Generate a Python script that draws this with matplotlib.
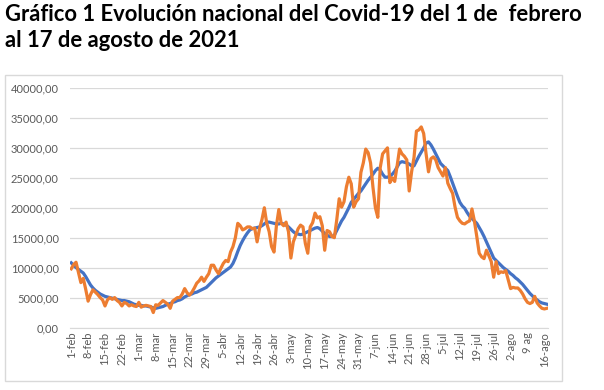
import matplotlib
matplotlib.use('Agg')
import matplotlib.pyplot as plt
from matplotlib.patches import Rectangle

plt.rcParams['font.family'] = ['Lato', 'DejaVu Sans']

# casos diarios (naranja) y media movil (azul), 1-feb a 17-ago 2021
casos = [
    9800, 10500, 10900, 9200, 7500, 8200, 6400,
    4400, 5500, 6300, 5900, 5500, 5000, 4600,
    3600, 4600, 5000, 4700, 5000, 4500, 4200,
    3600, 4200, 4000, 3600, 3800, 3600, 3500,
    4200, 3400, 3600, 3700, 3600, 3500, 2500,
    3800, 3700, 4100, 4500, 4200, 3900, 3200,
    4400, 4700, 5000, 5000, 5600, 6500, 5800,
    5400, 5900, 6600, 7400, 7800, 8400, 7700,
    8400, 9000, 10400, 10400, 9600, 9000, 9900,
    10700, 11200, 11000, 12600, 13500, 15000, 17400,
    17000, 16300, 16500, 16800, 16800, 16500, 16600,
    14300, 16500, 18000, 20000, 17400, 16000, 13500,
    12600, 17000, 19700, 17400, 17000, 17600, 16000,
    11600, 14300, 15400, 16500, 17100, 16800, 14000,
    12400, 16800, 17500, 19100, 18300, 18500, 17000,
    12900, 16200, 16000, 15200, 15000, 18000, 21500,
    20100, 21000, 23500, 25100, 24000, 20100, 21000,
    21500, 25900, 27500, 29800, 29200, 27500, 23400,
    20000, 18400, 26700, 29000, 29500, 30000, 24200,
    25000, 24400, 27000, 29800, 29000, 28600, 28000,
    22800, 26000, 28400, 32800, 33000, 33500, 32400,
    29000, 26000, 28200, 28500, 28000, 26700, 26000,
    25300, 26700, 24100, 23200, 22400, 20100, 18400,
    17800, 17400, 17300, 17600, 17800, 19800, 17800,
    15200, 12400, 11800, 11500, 12900, 12000, 11000,
    8400, 11000, 9000, 9300, 9200, 9500, 8000,
    6500, 6700, 6600, 6600, 6200, 5600, 4800,
    4200, 4000, 4200, 5200, 4100, 3600, 3200,
    3100, 3200,
]

media = [
    10800, 10400, 10000, 9700, 9400, 9100, 8500,
    7800, 7100, 6600, 6200, 5900, 5600, 5400,
    5200, 5100, 5000, 4900, 4800, 4700, 4600,
    4500, 4500, 4400, 4300, 4100, 3900, 3800,
    3700, 3700, 3600, 3600, 3500, 3400, 3300,
    3200, 3300, 3400, 3500, 3700, 3900, 4000,
    4200, 4300, 4500, 4600, 4800, 5100, 5300,
    5500, 5600, 5800, 5900, 6100, 6300, 6500,
    6700, 7100, 7500, 7900, 8300, 8600, 8900,
    9200, 9500, 9800, 10100, 10700, 11600, 12700,
    13700, 14500, 15200, 15800, 16300, 16500, 16600,
    16700, 16800, 17000, 17300, 17600, 17600, 17500,
    17400, 17300, 17300, 17400, 17300, 17100, 16800,
    16400, 16000, 15700, 15600, 15500, 15600, 15800,
    16000, 16200, 16400, 16600, 16700, 16500, 16100,
    15700, 15400, 15200, 15200, 15400, 16200, 17000,
    17800, 18400, 19200, 20000, 20900, 21400, 21900,
    22400, 22800, 23400, 24000, 24600, 25100, 25600,
    26200, 26600, 26300, 25600, 25100, 25100, 25300,
    25600, 26100, 26800, 27500, 27700, 27600, 27500,
    27300, 27000, 27000, 27800, 28600, 29300, 30000,
    30800, 31000, 30500, 29800, 29000, 28200, 27400,
    27000, 26600, 26200, 25200, 24100, 23000, 21900,
    20900, 20300, 19900, 19200, 18600, 18200, 17800,
    17400, 16700, 16000, 15200, 14300, 13400, 12500,
    11600, 11200, 10800, 10400, 10000, 9700, 9400,
    9000, 8700, 8300, 8000, 7600, 7200, 6700,
    6200, 5700, 5300, 4900, 4600, 4300, 4100,
    4000, 3900,
]

etiquetas = ['1-feb', '8-feb', '15-feb', '22-feb', '1-mar', '8-mar', '15-mar',
             '22-mar', '29-mar', '5-abr', '12-abr', '19-abr', '26-abr', '3-may',
             '10-may', '17-may', '24-may', '31-may', '7-jun', '14-jun', '21-jun',
             '28-jun', '5-jul', '12-jul', '19-jul', '26-jul', '2-ago', '9 ag',
             '16-ago']

dias = list(range(len(casos)))

fig = plt.figure(figsize=(6.04, 3.90), dpi=100)

# titulo
fig.text(0.008, 0.99, 'Gráfico 1 Evolución nacional del Covid-19 del 1 de  febrero\nal 17 de agosto de 2021',
         fontsize=15.8, fontweight='bold', va='top', ha='left', linespacing=1.3)

# marco del grafico
fig.patches.append(Rectangle((5 / 604, 1 - 381 / 390), 557 / 604, 306 / 390,
                             transform=fig.transFigure, fill=False,
                             edgecolor='#d9d9d9', lw=1))

ax = fig.add_axes([70 / 604, 1 - 327.5 / 390, 478 / 604, 239.5 / 390])
ax.plot(dias, media, color='#4472C4', lw=2.3, solid_joinstyle='round')
ax.plot(dias, casos, color='#ED7D31', lw=2.3, solid_joinstyle='round')

ax.set_xlim(-0.5, len(casos) - 0.5)
ax.set_ylim(0, 40000)
ax.set_yticks(range(0, 40001, 5000))
ax.set_yticklabels([f'{v},00' for v in range(0, 40001, 5000)])
ax.set_xticks(dias[::7])
ax.set_xticklabels(etiquetas, rotation=90)
ax.tick_params(length=0, labelsize=8, colors='#595959')
ax.tick_params(axis='y', pad=8)
ax.tick_params(axis='x', pad=3)

ax.grid(axis='y', color='#d9d9d9', lw=0.9)
ax.set_axisbelow(True)
for s in ['top', 'right', 'left']:
    ax.spines[s].set_visible(False)
ax.spines['bottom'].set_color('#d9d9d9')

fig.savefig('out.png', dpi=100)
